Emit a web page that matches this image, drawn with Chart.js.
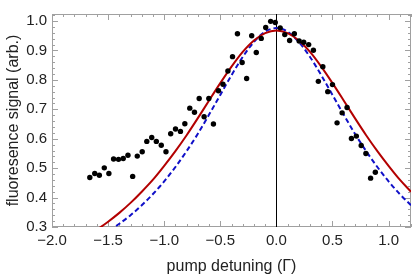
<html>
<head>
  <title>Fluorescence vs pump detuning</title>
  <script src="https://cdn.jsdelivr.net/npm/chart.js"></script>
  <style>
    html, body { margin: 0; padding: 0; background: #fff; }
    #wrap { width: 415px; height: 276px; }
  </style>
</head>
<body>
  <div id="wrap"><canvas id="myChart"></canvas></div>

  <script>
    // measured points (pump detuning in units of Gamma, fluorescence in arb. units)
    var dataX = [-1.663, -1.619, -1.578, -1.534, -1.493, -1.451, -1.407, -1.365, -1.323, -1.281,
                 -1.240, -1.196, -1.155, -1.111, -1.070, -1.026, -0.984, -0.942, -0.899, -0.855,
                 -0.816, -0.772, -0.730, -0.688, -0.644, -0.602, -0.561, -0.516, -0.476, -0.432,
                 -0.391, -0.347, -0.305, -0.265, -0.220, -0.179, -0.135, -0.095, -0.051, -0.010,
                 0.034, 0.075, 0.118, 0.160, 0.203, 0.244, 0.288, 0.330, 0.374, 0.414,
                 0.458, 0.500, 0.541, 0.586, 0.630, 0.669, 0.713, 0.756, 0.798, 0.840, 0.882];
    var dataY = [0.468, 0.482, 0.476, 0.501, 0.482, 0.531, 0.530, 0.533, 0.544, 0.472,
                 0.541, 0.556, 0.591, 0.604, 0.591, 0.578, 0.556, 0.617, 0.633, 0.625,
                 0.651, 0.704, 0.690, 0.737, 0.675, 0.737, 0.650, 0.763, 0.785, 0.830,
                 0.879, 0.957, 0.859, 0.805, 0.950, 0.893, 0.941, 0.978, 0.999, 0.995,
                 0.977, 0.954, 0.934, 0.957, 0.932, 0.928, 0.920, 0.901, 0.795, 0.845,
                 0.760, 0.784, 0.654, 0.688, 0.706, 0.601, 0.609, 0.577, 0.550, 0.466, 0.486];

    // the two model curves at steps of 0.1
    var curveX = [-1.8, -1.7, -1.6, -1.5, -1.4, -1.3, -1.2, -1.1, -1.0, -0.9, -0.8, -0.7, -0.6, -0.5, -0.4, -0.3,
                  -0.2, -0.1, 0.0, 0.1, 0.2, 0.3, 0.4, 0.5, 0.6, 0.7, 0.8, 0.9, 1.0, 1.1, 1.2];
    var redY = [0.246, 0.267, 0.291, 0.318, 0.348, 0.382, 0.420, 0.461, 0.508, 0.558, 0.612, 0.670, 0.730, 0.789, 0.845, 0.895,
                0.934, 0.959, 0.968, 0.959, 0.934, 0.895, 0.845, 0.789, 0.730, 0.670, 0.612, 0.558, 0.508, 0.461, 0.420];
    var blueY = [0.223, 0.241, 0.262, 0.285, 0.311, 0.340, 0.374, 0.412, 0.455, 0.504, 0.558, 0.617, 0.682, 0.749, 0.816, 0.878,
                 0.929, 0.964, 0.976, 0.964, 0.929, 0.878, 0.816, 0.749, 0.682, 0.617, 0.558, 0.504, 0.455, 0.412, 0.374];

    var xTicks = [-2.0, -1.5, -1.0, -0.5, 0.0, 0.5, 1.0];
    var yTicks = [0.3, 0.4, 0.5, 0.6, 0.7, 0.8, 0.9, 1.0];

    function toPoints(xs, ys) {
      return xs.map(function (x, i) { return { x: x, y: ys[i] }; });
    }

    function fmt(v) {
      return v.toFixed(1).replace('-', '\u2212');
    }

    // Mathematica style frame with inward ticks, plus the line at zero detuning
    var framePlugin = {
      id: 'frame',
      beforeDatasetsDraw: function (chart) {
        var ctx = chart.ctx, a = chart.chartArea, sx = chart.scales.x, sy = chart.scales.y;
        ctx.save();
        ctx.lineWidth = 1;
        ctx.strokeStyle = '#a0a0a0';
        ctx.strokeRect(a.left + 0.5, a.top + 0.5, a.right - a.left - 1, a.bottom - a.top - 1);
        ctx.beginPath();
        for (var i = -20; i <= 12; i++) {
          var px = Math.round(sx.getPixelForValue(i / 10)) + 0.5;
          var len = (i % 5 === 0) ? 6 : 3;
          ctx.moveTo(px, a.bottom); ctx.lineTo(px, a.bottom - len);
          ctx.moveTo(px, a.top); ctx.lineTo(px, a.top + len);
        }
        for (var j = 15; j <= 51; j++) {
          var py = Math.round(sy.getPixelForValue(j / 50)) + 0.5;
          var l2 = (j % 5 === 0) ? 6 : 3;
          ctx.moveTo(a.left, py); ctx.lineTo(a.left + l2, py);
          ctx.moveTo(a.right, py); ctx.lineTo(a.right - l2, py);
        }
        ctx.stroke();
        var zx = Math.round(sx.getPixelForValue(0)) + 0.5;
        ctx.strokeStyle = '#000';
        ctx.beginPath();
        ctx.moveTo(zx, a.top); ctx.lineTo(zx, a.bottom);
        ctx.stroke();
        ctx.restore();
      }
    };

    var font = "'Liberation Sans', Arial, sans-serif";

    var ctx = document.getElementById('myChart').getContext('2d');
    var chart = new Chart(ctx, {
      type: 'scatter',
      data: {
        datasets: [
          {
            label: 'data',
            data: toPoints(dataX, dataY),
            backgroundColor: '#000',
            borderColor: '#000',
            pointRadius: 2.7,
            pointBorderWidth: 0
          },
          {
            label: 'fit 1',
            data: toPoints(curveX, redY),
            showLine: true,
            borderColor: '#b30000',
            borderWidth: 2,
            pointRadius: 0,
            cubicInterpolationMode: 'monotone'
          },
          {
            label: 'fit 2',
            data: toPoints(curveX, blueY),
            showLine: true,
            borderColor: '#1010c8',
            borderWidth: 2,
            borderDash: [5, 3],
            pointRadius: 0,
            cubicInterpolationMode: 'monotone'
          }
        ]
      },
      options: {
        responsive: true,
        maintainAspectRatio: false,
        animation: false,
        layout: { padding: { top: 2, right: 1, left: 0, bottom: 0 } },
        plugins: { legend: { display: false }, tooltip: { enabled: false } },
        scales: {
          x: {
            type: 'linear',
            min: -2.0,
            max: 1.2,
            grid: { display: false, drawTicks: false },
            border: { display: false },
            afterBuildTicks: function (s) { s.ticks = xTicks.map(function (v) { return { value: v }; }); },
            afterFit: function (s) { s.height = 49; },
            ticks: {
              color: '#222',
              font: { family: font, size: 15 },
              padding: 5,
              maxRotation: 0,
              callback: function (v) { return fmt(v); }
            },
            title: {
              display: true,
              text: 'pump detuning (\u0393)',
              color: '#222',
              font: { family: font, size: 16 },
              padding: { top: 4, bottom: 0 }
            }
          },
          y: {
            type: 'linear',
            min: 0.3,
            max: 1.024,
            grid: { display: false, drawTicks: false },
            border: { display: false },
            afterBuildTicks: function (s) { s.ticks = yTicks.map(function (v) { return { value: v }; }); },
            afterFit: function (s) { s.width = 52; },
            ticks: {
              color: '#222',
              font: { family: font, size: 15 },
              padding: 5,
              callback: function (v) { return fmt(v); }
            },
            title: {
              display: true,
              text: 'fluoresence signal (arb.)',
              color: '#222',
              font: { family: font, size: 16 },
              padding: { top: 4, bottom: 0 }
            }
          }
        }
      },
      plugins: [framePlugin]
    });
  </script>
</body>
</html>
